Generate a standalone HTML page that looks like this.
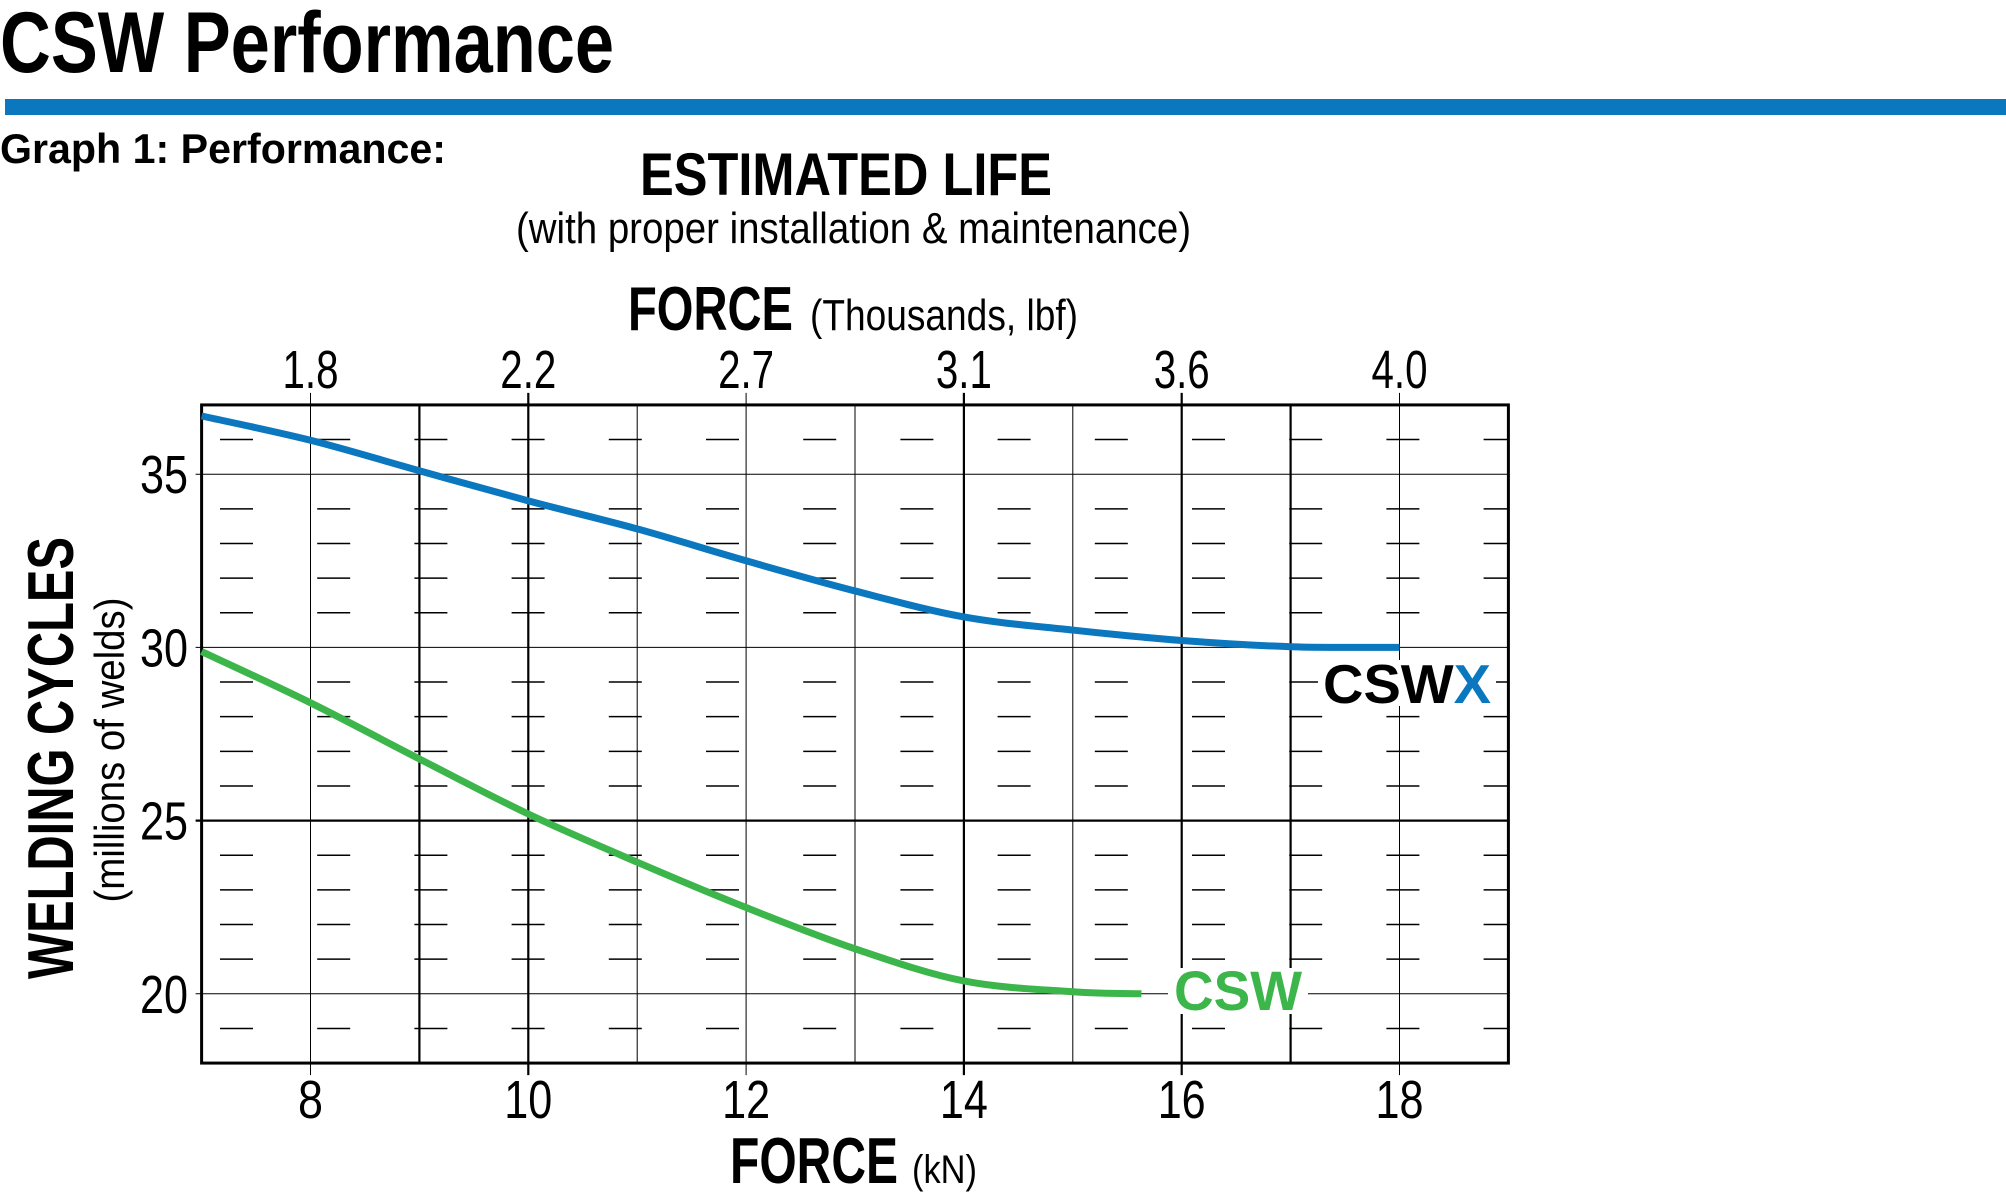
<!DOCTYPE html>
<html><head><meta charset="utf-8"><style>
html,body{margin:0;padding:0;background:#fff;}
svg{display:block;}
</style></head><body>
<svg width="2006" height="1192" viewBox="0 0 2006 1192" xmlns="http://www.w3.org/2000/svg" font-family="Liberation Sans, sans-serif">
<rect width="2006" height="1192" fill="#fff"/>
<text x="0" y="72" font-size="86" font-weight="bold" textLength="614" lengthAdjust="spacingAndGlyphs">CSW Performance</text>
<rect x="5" y="99" width="2001" height="16" fill="#0a77bf"/>
<text x="0" y="163" font-size="42" font-weight="bold" textLength="446" lengthAdjust="spacingAndGlyphs">Graph 1:  Performance:</text>
<text x="640" y="195" font-size="60" font-weight="bold" textLength="412" lengthAdjust="spacingAndGlyphs">ESTIMATED LIFE</text>
<text x="516" y="243" font-size="44" textLength="675" lengthAdjust="spacingAndGlyphs">(with proper installation &amp; maintenance)</text>
<text x="628" y="330" font-size="62" font-weight="bold" textLength="165" lengthAdjust="spacingAndGlyphs">FORCE</text>
<text x="810" y="330" font-size="44" textLength="268" lengthAdjust="spacingAndGlyphs">(Thousands, lbf)</text>
<g id="grid"></g>
<text x="730" y="1183" font-size="65" font-weight="bold" textLength="168" lengthAdjust="spacingAndGlyphs">FORCE</text>
<text x="912" y="1183" font-size="40" textLength="65" lengthAdjust="spacingAndGlyphs">(kN)</text>
<text transform="translate(73,758) rotate(-90)" font-size="65" font-weight="bold" text-anchor="middle" textLength="442" lengthAdjust="spacingAndGlyphs">WELDING CYCLES</text>
<text transform="translate(124,750) rotate(-90)" font-size="42" text-anchor="middle" textLength="305" lengthAdjust="spacingAndGlyphs">(millions of welds)</text>
<path id="blue" fill="none" stroke="#0a77bf" stroke-width="7"/>
<path id="green" fill="none" stroke="#3cb54a" stroke-width="7"/>
<rect x="1168" y="968" width="140" height="46" fill="#fff"/>
<text x="1174" y="1010" font-size="56" font-weight="bold" fill="#3cb54a" textLength="128" lengthAdjust="spacingAndGlyphs">CSW</text>
<rect x="1318" y="660" width="178" height="46" fill="#fff"/>
<text x="1323" y="703" font-size="55" font-weight="bold" textLength="168" lengthAdjust="spacingAndGlyphs">CSW<tspan fill="#0a77bf">X</tspan></text>
</svg>
<script>
var NS="http://www.w3.org/2000/svg";
function X(k){return 201.6+(k-7)*108.9;}
function Y(v){return 474.2+(35-v)*34.64;}
var g=document.getElementById('grid');
function el(t,a,p){var e=document.createElementNS(NS,t);for(var k in a)e.setAttribute(k,a[k]);(p||g).appendChild(e);return e;}
var L=X(7),R=X(19),T=Y(37),B=Y(18);
for(var v=19;v<=36;v++){if(v%5==0)continue;var y=Y(v);
 for(var i=0;i<14;i++){var x0=220+i*97.2,x1=Math.min(x0+33,R);el('line',{x1:x0,y1:y,x2:x1,y2:y,stroke:'#000','stroke-width':1.5});}}
var thick={9:1,10:1,14:1,16:1,17:1};
for(var k=8;k<=18;k++){var x=X(k);var ext=(k%2==0);
 el('line',{x1:x,y1:ext?T-12:T,x2:x,y2:ext?B+12:B,stroke:'#000','stroke-width':thick[k]?2.2:1});}
[20,25,30,35].forEach(function(v){el('line',{x1:L-6,y1:Y(v),x2:R,y2:Y(v),stroke:'#000','stroke-width':v==25?2.2:1});
 var t=el('text',{x:188,y:Y(v)+19,'font-size':54,'text-anchor':'end',textLength:48,lengthAdjust:'spacingAndGlyphs'});t.textContent=v;});
el('rect',{x:L,y:T,width:R-L,height:B-T,fill:'none',stroke:'#000','stroke-width':3});
var toplabs=['1.8','2.2','2.7','3.1','3.6','4.0'];
[8,10,12,14,16,18].forEach(function(k,i){
 var t=el('text',{x:X(k),y:388,'font-size':54,'text-anchor':'middle',textLength:56,lengthAdjust:'spacingAndGlyphs'});t.textContent=toplabs[i];
 var w=k<10?25:48;
 var b=el('text',{x:X(k),y:1118,'font-size':54,'text-anchor':'middle',textLength:w,lengthAdjust:'spacingAndGlyphs'});b.textContent=k;});
function path(pts){var p=pts.map(function(q){return [X(q[0]),Y(q[1])];});
 var d='M'+p[0][0]+','+p[0][1];
 for(var i=0;i<p.length-1;i++){var p0=p[Math.max(i-1,0)],p1=p[i],p2=p[i+1],p3=p[Math.min(i+2,p.length-1)];
  var c1=[p1[0]+(p2[0]-p0[0])/6,p1[1]+(p2[1]-p0[1])/6],c2=[p2[0]-(p3[0]-p1[0])/6,p2[1]-(p3[1]-p1[1])/6];
  d+=' C'+c1+' '+c2+' '+p2;}
 return d;}
document.getElementById('blue').setAttribute('d',path([[7,36.68],[8,35.98],[9,35.1],[10,34.23],[11,33.42],[12,32.5],[13,31.63],[14,30.88],[15,30.5],[16,30.2],[17,30.02],[18,30.0]]));
document.getElementById('green').setAttribute('d',path([[7,29.88],[8,28.4],[9,26.78],[10,25.19],[11,23.8],[12,22.49],[13,21.3],[14,20.37],[15,20.06],[15.63,20.0]]));
</script>
</body></html>
